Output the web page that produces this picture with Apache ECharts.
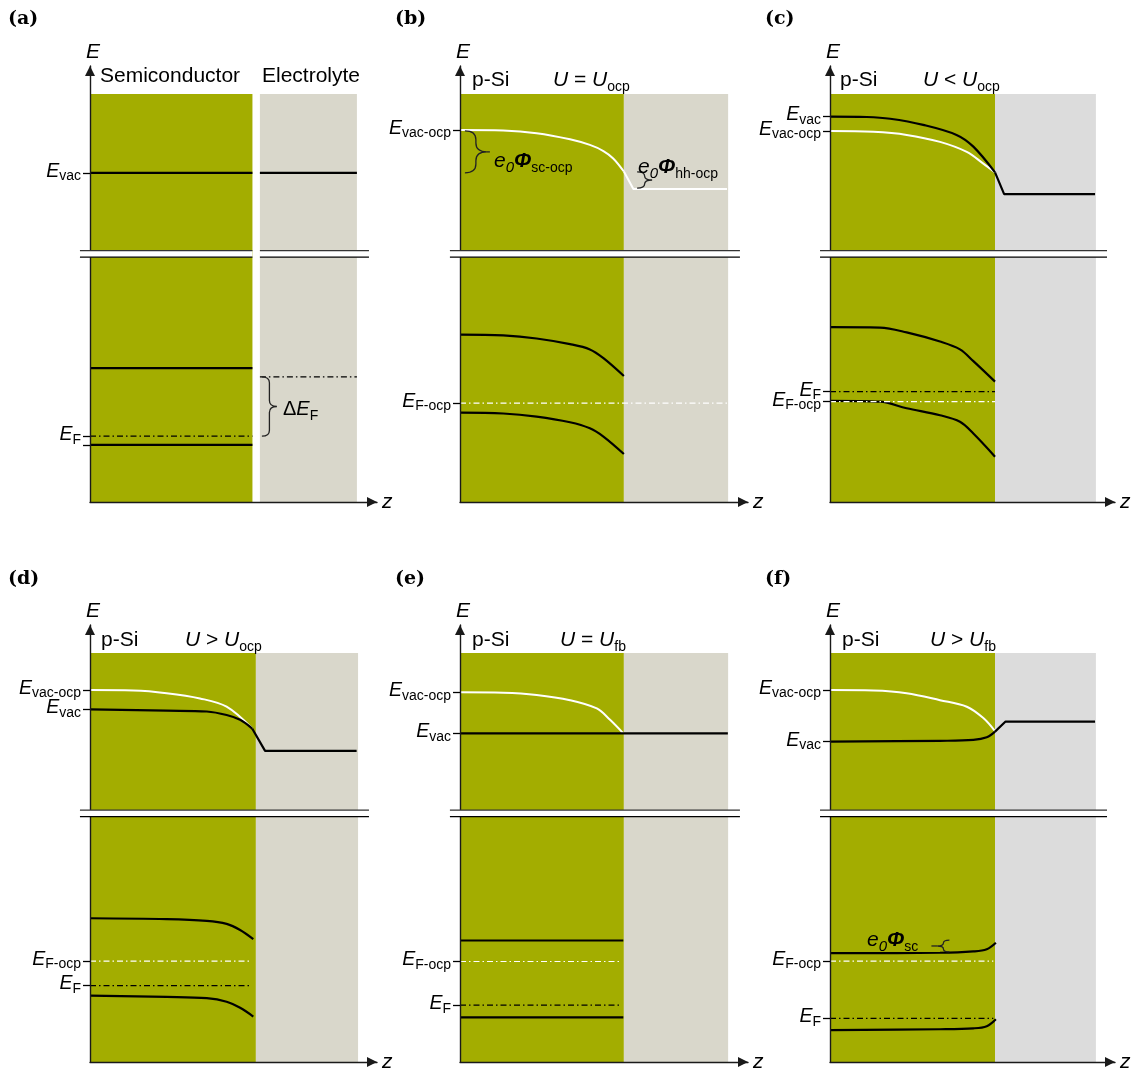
<!DOCTYPE html>
<html><head><meta charset="utf-8">
<script src="https://cdn.jsdelivr.net/npm/echarts@6/dist/echarts.min.js"></script>
<style>html,body{margin:0;padding:0;background:#fff}#c{width:1136px;height:1074px}</style>
</head><body><div id="c"></div>
<script>
// ---------------- DATA (z, E in arbitrary units) ----------------
const panelLetters = ['(a)','(b)','(c)','(d)','(e)','(f)'];
const bandTop = 9.36;      // top of the shaded regions
const breakE = 5.69;       // position of the broken-axis mark

// (a) separate semiconductor / electrolyte
const a_semi = [0, 5.66], a_elec = [5.92, 9.30];
const a_vacSemi = [[0,7.55],[5.66,7.55]];
const a_vacElec = [[5.92,7.55],[9.30,7.55]];
const a_cb = [[0,3.07],[5.66,3.07]];
const a_vb = [[0,1.31],[5.66,1.31]];
const a_ef = [[0,1.51],[5.66,1.51]];
const a_efElec = [[5.92,2.87],[9.30,2.87]];
const a_ticks = [7.55, 1.51, 1.31];
const a_labels = [[7.55,'vac'],[1.51,'F']];
const a_brace = [5.99, 2.87, 1.51];

// (b) U = U_ocp
const b_semi = [0, 5.69], b_elec = [5.69, 9.31];
const b_vacOcpSc = [[0,8.53],[1.50,8.52],[2.66,8.46],[3.82,8.32],[4.51,8.19],[4.98,8.05],[5.32,7.88],[5.69,7.58]];
const b_vacOcpEl = [[5.69,7.58],[6.02,7.18],[9.27,7.18]];
const b_cb = [[0,3.84],[1.50,3.82],[2.66,3.75],[3.82,3.62],[4.51,3.50],[4.98,3.30],[5.69,2.89]];
const b_vb = [[0,2.05],[1.50,2.03],[2.66,1.96],[3.82,1.83],[4.51,1.69],[4.98,1.50],[5.69,1.10]];
const b_efOcp = [[0,2.27],[9.31,2.27]];
const b_ticks = [8.53, 2.27];
const b_labels = [[8.53,'vac-ocp'],[2.27,'F-ocp']];
const b_braceSc = [0.17, 8.51, 7.55];
const b_braceHh = [6.15, 7.57, 7.20];

// (c) U < U_ocp
const c_semi = [0, 5.79], c_elec = [5.79, 9.33];
const c_vacOcp = [[0,8.51],[1.52,8.49],[2.69,8.42],[3.86,8.26],[4.80,8.03],[5.38,7.76],[5.79,7.56]];
const c_vacSc = [[0,8.84],[1.29,8.83],[2.11,8.79],[3.27,8.65],[4.44,8.42],[5.03,8.15],[5.79,7.56]];
const c_vacEl = [[5.79,7.56],[6.11,7.06],[9.30,7.06]];
const c_cb = [[0,4.01],[1.75,4.00],[2.69,3.89],[3.86,3.68],[4.56,3.50],[5.03,3.23],[5.79,2.76]];
const c_vb = [[0,2.32],[1.75,2.30],[2.69,2.15],[3.86,1.99],[4.56,1.84],[5.03,1.57],[5.79,1.04]];
const c_ef = [[0,2.53],[5.79,2.53]];
const c_efOcp = [[0,2.30],[5.79,2.30]];
const c_ticks = [8.84, 8.51, 2.53, 2.30];
const c_labels = [[8.84,'vac'],[8.51,'vac-ocp'],[2.53,'F'],[2.30,'F-ocp']];

// (d) U > U_ocp
const d_semi = [0, 5.78], d_elec = [5.78, 9.34];
const d_vacOcp = [[0,8.51],[1.51,8.50],[2.67,8.44],[3.83,8.32],[4.76,8.13],[5.65,7.63]];
const d_vacSc = [[0,8.07],[2.67,8.04],[4.07,8.02],[4.76,7.94],[5.23,7.83],[5.65,7.63]];
const d_vacEl = [[5.65,7.63],[6.10,7.12],[9.29,7.12]];
const d_cb = [[0,3.29],[2.67,3.27],[4.07,3.23],[4.76,3.16],[5.23,3.02],[5.69,2.81]];
const d_vb = [[0,1.52],[2.67,1.49],[4.07,1.46],[4.76,1.38],[5.23,1.24],[5.69,1.04]];
const d_efOcp = [[0,2.31],[5.57,2.31]];
const d_ef = [[0,1.75],[5.57,1.75]];
const d_ticks = [8.51, 8.07, 2.31, 1.75];
const d_labels = [[8.51,'vac-ocp'],[8.07,'vac'],[2.31,'F-ocp'],[1.75,'F']];

// (e) U = U_fb
const e_semi = [0, 5.69], e_elec = [5.69, 9.31];
const e_vacOcp = [[0,8.46],[1.50,8.45],[2.66,8.40],[3.82,8.28],[4.75,8.09],[5.21,7.83],[5.67,7.52]];
const e_vac = [[0,7.52],[9.30,7.52]];
const e_cb = [[0,2.78],[5.67,2.78]];
const e_vb = [[0,1.02],[5.67,1.02]];
const e_efOcp = [[0,2.30],[5.62,2.30]];
const e_ef = [[0,1.30],[5.58,1.30]];
const e_ticks = [8.46, 7.52, 2.30, 1.30];
const e_labels = [[8.46,'vac-ocp'],[7.52,'vac'],[2.30,'F-ocp'],[1.30,'F']];

// (f) U > U_fb
const f_semi = [0, 5.79], f_elec = [5.79, 9.33];
const f_vacOcp = [[0,8.51],[1.52,8.50],[2.69,8.44],[3.86,8.28],[4.80,8.13],[5.38,7.87],[5.79,7.57]];
const f_vacSc = [[0,7.33],[3.86,7.35],[5.03,7.37],[5.50,7.43],[5.79,7.56]];
const f_vacEl = [[5.79,7.56],[6.16,7.79],[9.30,7.79]];
const f_cb = [[0,2.49],[3.86,2.50],[5.03,2.53],[5.50,2.58],[5.82,2.73]];
const f_vb = [[0,0.73],[3.86,0.75],[5.03,0.77],[5.50,0.82],[5.82,0.98]];
const f_efOcp = [[0,2.31],[5.73,2.31]];
const f_ef = [[0,1.00],[5.73,1.00]];
const f_ticks = [8.51, 7.33, 2.31, 1.00];
const f_labels = [[8.51,'vac-ocp'],[7.33,'vac'],[2.31,'F-ocp'],[1.00,'F']];
const f_brace = [4.19, 2.79, 2.52];

// ---------------- STYLE / LAYOUT ----------------
const FONT = '"Liberation Sans", Arial, Helvetica, sans-serif';
const SERIF = '"DejaVu Serif", "Liberation Serif", serif';
const GREEN = '#a3ad00', BEIGE = '#d9d7cb', LGRAY = '#dcdcdc';
const BLK = '#000', WHT = '#fff';
const DASHDOT = [6, 3, 1.5, 3];
const GRID_PX = [[90,66,287,436],[460,66,288,436],[830,66,285,436],
                 [90,625,287,437],[460,625,288,437],[830,625,285,437]];

function mkRich(fs, sfs, lh) {
  return {
    t: {fontSize: fs, fontFamily: FONT, color: '#000', lineHeight: lh, verticalAlign: 'top'},
    i: {fontSize: fs, fontFamily: FONT, fontStyle: 'italic', color: '#000', lineHeight: lh, verticalAlign: 'top'},
    b: {fontSize: fs, fontFamily: FONT, fontStyle: 'italic', fontWeight: 'bold', color: '#000', lineHeight: lh, verticalAlign: 'top'},
    s: {fontSize: sfs, fontFamily: FONT, color: '#000', lineHeight: lh, verticalAlign: 'bottom'},
    si: {fontSize: sfs + 1, fontFamily: FONT, fontStyle: 'italic', color: '#000', lineHeight: lh, verticalAlign: 'bottom'}
  };
}
const RICH = mkRich(20, 14, 24);
const RICH_H = mkRich(21, 14, 24);
const RICH_AX = mkRich(19.5, 14, 22);

function L(d, color, opts) { return Object.assign({d, color, w: 2.2, smooth: 0.35, dash: 'solid'}, opts || {}); }
const panels = [
  { semi: a_semi, elec: a_elec, elecColor: BEIGE, split: true, ticks: a_ticks, labels: a_labels,
    lines: [L(a_vacSemi,BLK,{smooth:0}), L(a_vacElec,BLK,{smooth:0}), L(a_cb,BLK,{smooth:0}), L(a_vb,BLK,{smooth:0}),
            L(a_ef,BLK,{smooth:0,w:1.2,dash:DASHDOT}), L(a_efElec,BLK,{smooth:0,w:1.2,dash:DASHDOT})],
    braces: [{v: a_brace, w: 15, dir: 1}] },
  { semi: b_semi, elec: b_elec, elecColor: BEIGE, ticks: b_ticks, labels: b_labels,
    lines: [L(b_vacOcpSc,WHT,{w:2}), L(b_vacOcpEl,WHT,{w:2,smooth:0}), L(b_cb,BLK), L(b_vb,BLK),
            L(b_efOcp,WHT,{smooth:0,w:1.2,dash:DASHDOT})],
    braces: [{v: b_braceSc, w: 22, dir: 1, stub: 3}, {v: b_braceHh, w: 15, dir: 1}] },
  { semi: c_semi, elec: c_elec, elecColor: LGRAY, ticks: c_ticks, labels: c_labels,
    lines: [L(c_vacOcp,WHT,{w:2}), L(c_vacSc,BLK), L(c_vacEl,BLK,{smooth:0}), L(c_cb,BLK), L(c_vb,BLK),
            L(c_ef,BLK,{smooth:0,w:1.2,dash:DASHDOT}), L(c_efOcp,WHT,{smooth:0,w:1.2,dash:DASHDOT})],
    braces: [] },
  { semi: d_semi, elec: d_elec, elecColor: BEIGE, ticks: d_ticks, labels: d_labels,
    lines: [L(d_vacOcp,WHT,{w:2}), L(d_vacSc,BLK), L(d_vacEl,BLK,{smooth:0}), L(d_cb,BLK), L(d_vb,BLK),
            L(d_efOcp,WHT,{smooth:0,w:1.2,dash:DASHDOT}), L(d_ef,BLK,{smooth:0,w:1.2,dash:DASHDOT})],
    braces: [] },
  { semi: e_semi, elec: e_elec, elecColor: BEIGE, ticks: e_ticks, labels: e_labels,
    lines: [L(e_vacOcp,WHT,{w:2}), L(e_vac,BLK,{smooth:0}), L(e_cb,BLK,{smooth:0}), L(e_vb,BLK,{smooth:0}),
            L(e_efOcp,WHT,{smooth:0,w:1.2,dash:DASHDOT}), L(e_ef,BLK,{smooth:0,w:1.2,dash:DASHDOT})],
    braces: [] },
  { semi: f_semi, elec: f_elec, elecColor: LGRAY, ticks: f_ticks, labels: f_labels,
    lines: [L(f_vacOcp,WHT,{w:2}), L(f_vacSc,BLK), L(f_vacEl,BLK,{smooth:0}), L(f_cb,BLK), L(f_vb,BLK),
            L(f_efOcp,WHT,{smooth:0,w:1.2,dash:DASHDOT}), L(f_ef,BLK,{smooth:0,w:1.2,dash:DASHDOT})],
    braces: [{v: f_brace, w: 12, dir: -1, stub: 6}] }
];

function bracePath(x, y0, y1, w, dir) {
  const ym = (y0 + y1) / 2, h = w / 2, s = x + dir * h, t = x + dir * w;
  const r = Math.min(h * 0.8, (y1 - y0) / 4);
  return 'M' + x + ',' + y0 + ' Q' + s + ',' + y0 + ' ' + s + ',' + (y0 + r) +
    ' L' + s + ',' + (ym - r) + ' Q' + s + ',' + ym + ' ' + t + ',' + ym +
    ' Q' + s + ',' + ym + ' ' + s + ',' + (ym + r) +
    ' L' + s + ',' + (y1 - r) + ' Q' + s + ',' + y1 + ' ' + x + ',' + y1;
}

const grids = [], xAxes = [], yAxes = [], series = [];
const axisLineStyle = {show: true, symbol: ['none', 'triangle'], symbolSize: [10, 10], symbolOffset: [0, -5],
  lineStyle: {color: '#1a1a1a', width: 1.4}};

function labelFormatter(labs) {
  return function (v) {
    const l = labs.find(t => Math.abs(t[0] - v) < 1e-6);
    return l ? '{i|E}{s|' + l[1] + '}' : '';
  };
}

panels.forEach((p, i) => {
  const g = GRID_PX[i];
  grids.push({left: g[0], top: g[1], width: g[2], height: g[3], outerBoundsMode: 'none', containLabel: false});
  xAxes.push({type: 'value', gridIndex: i, min: 0, max: 10, z: 3,
    axisLine: axisLineStyle, axisTick: {show: false}, axisLabel: {show: false}, splitLine: {show: false},
    name: 'z', nameLocation: 'end', nameGap: 5,
    nameTextStyle: {fontStyle: 'italic', fontSize: 21, fontFamily: FONT, color: '#000'}});
  const labs = p.labels;
  const labsA = labs.filter((l, k) => k % 2 === 0), labsB = labs.filter((l, k) => k % 2 === 1);
  const lblCommon = {show: true, margin: 9, padding: [0, 0, 1, 0], hideOverlap: false, rich: RICH_AX};
  yAxes.push({type: 'value', gridIndex: i, min: 0, max: 10, z: 3,
    axisLine: axisLineStyle,
    axisTick: {show: true, customValues: p.ticks, length: 7, lineStyle: {color: '#000', width: 1.3}},
    axisLabel: Object.assign({customValues: labsA.map(l => l[0]), formatter: labelFormatter(labsA)}, lblCommon),
    splitLine: {show: false},
    name: 'E', nameLocation: 'end', nameGap: 3,
    nameTextStyle: {fontStyle: 'italic', fontSize: 21, fontFamily: FONT, color: '#000', padding: [0, 0, 0, 6]}});
  yAxes.push({type: 'value', gridIndex: i, min: 0, max: 10, z: 3, position: 'left',
    axisLine: {show: false}, axisTick: {show: false}, splitLine: {show: false},
    axisLabel: Object.assign({customValues: labsB.map(l => l[0]), formatter: labelFormatter(labsB)}, lblCommon)});
  const yi = 2 * i;

  // shaded regions
  const rects = [[p.semi[0], p.semi[1], bandTop, 0], [p.elec[0], p.elec[1], bandTop, 1]];
  const cols = [GREEN, p.elecColor];
  series.push({type: 'custom', xAxisIndex: i, yAxisIndex: yi, z: 1, silent: true, clip: false, data: rects,
    renderItem: function (params, api) {
      const a = api.coord([api.value(0), api.value(2)]), b = api.coord([api.value(1), 0]);
      return {type: 'rect', shape: {x: a[0], y: a[1], width: b[0] - a[0], height: b[1] - a[1]},
        style: {fill: cols[api.value(3)]}};
    }});
  // band lines
  p.lines.forEach(ln => {
    series.push({type: 'line', xAxisIndex: i, yAxisIndex: yi, z: 2, silent: true, data: ln.d,
      showSymbol: false, symbol: 'none', smooth: ln.smooth,
      lineStyle: {color: ln.color, width: ln.w, type: ln.dash, cap: 'butt'}});
  });
  // braces
  p.braces.forEach(br => {
    series.push({type: 'custom', xAxisIndex: i, yAxisIndex: yi, z: 4, silent: true, clip: false, data: [br.v],
      renderItem: function (params, api) {
        const a = api.coord([api.value(0), api.value(1)]), b = api.coord([api.value(0), api.value(2)]);
        const children = [{type: 'path', shape: {pathData: bracePath(a[0], a[1], b[1], br.w, br.dir)},
          style: {fill: 'none', stroke: '#222', lineWidth: 1.3}}];
        if (br.stub) {
          const ym = (a[1] + b[1]) / 2, tx = a[0] + br.dir * br.w;
          children.push({type: 'line', shape: {x1: tx, y1: ym, x2: tx + br.dir * br.stub, y2: ym},
            style: {stroke: '#222', lineWidth: 1.3}});
        }
        return {type: 'group', children};
      }});
  });
  // axis break marks
  const segs = p.split ? [[-0.35, p.semi[1]], [p.elec[0], 9.72]] : [[-0.35, 9.72]];
  series.push({type: 'custom', xAxisIndex: i, yAxisIndex: yi, z: 5, silent: true, clip: false,
    data: segs.map(s => [s[0], s[1], breakE]),
    renderItem: function (params, api) {
      const a = api.coord([api.value(0), api.value(2)]), b = api.coord([api.value(1), api.value(2)]);
      const y = a[1];
      return {type: 'group', children: [
        {type: 'rect', shape: {x: a[0], y: y - 3.3, width: b[0] - a[0], height: 6.6}, style: {fill: '#fff'}},
        {type: 'line', shape: {x1: a[0], y1: y - 3.3, x2: b[0], y2: y - 3.3}, style: {stroke: '#333', lineWidth: 1.3}},
        {type: 'line', shape: {x1: a[0], y1: y + 3.3, x2: b[0], y2: y + 3.3}, style: {stroke: '#000', lineWidth: 1.3}}
      ]};
    }});
});

// ---------------- TEXT ANNOTATIONS ----------------
function txt(x, y, text, rich) {
  return {type: 'text', x, y, z: 10, silent: true,
    style: {text, rich: rich || RICH, align: 'left', verticalAlign: 'middle', textAlign: 'left', textVerticalAlign: 'middle'}};
}
const letterPos = [[8,19],[395,19],[765,19],[8,579],[395,579],[765,579]];
const graphics = [];
panelLetters.forEach((t, i) => {
  graphics.push({type: 'text', x: letterPos[i][0], y: letterPos[i][1], z: 10, silent: true,
    style: {text: t, font: 'bold 19px ' + SERIF, fill: '#000', verticalAlign: 'middle', textVerticalAlign: 'middle'}});
});
const headerTexts = [
  [100, 78, '{t|Semiconductor}'], [262, 78, '{t|Electrolyte}'],
  [472, 82, '{t|p-Si}'], [553, 82, '{i|U}{t| = }{i|U}{s|ocp}'],
  [840, 82, '{t|p-Si}'], [923, 82, '{i|U}{t| < }{i|U}{s|ocp}'],
  [101, 642, '{t|p-Si}'], [185, 642, '{i|U}{t| > }{i|U}{s|ocp}'],
  [472, 642, '{t|p-Si}'], [560, 642, '{i|U}{t| = }{i|U}{s|fb}'],
  [842, 642, '{t|p-Si}'], [930, 642, '{i|U}{t| > }{i|U}{s|fb}']
];
headerTexts.forEach(h => graphics.push(txt(h[0], h[1], h[2], RICH_H)));
graphics.push(txt(283, 411, '{t|\u0394}{i|E}{s|F}'));
graphics.push(txt(494, 163, '{i|e}{si|0}{b|\u03A6}{s|sc-ocp}', RICH_H));
graphics.push(txt(638, 169, '{i|e}{si|0}{b|\u03A6}{s|hh-ocp}', RICH_H));
graphics.push(txt(867, 942, '{i|e}{si|0}{b|\u03A6}{s|sc}', RICH_H));

const chart = echarts.init(document.getElementById('c'), null, {renderer: 'canvas'});
chart.setOption({
  animation: false,
  backgroundColor: '#fff',
  grid: grids, xAxis: xAxes, yAxis: yAxes, series,
  graphic: graphics
});
</script>
</body></html>
